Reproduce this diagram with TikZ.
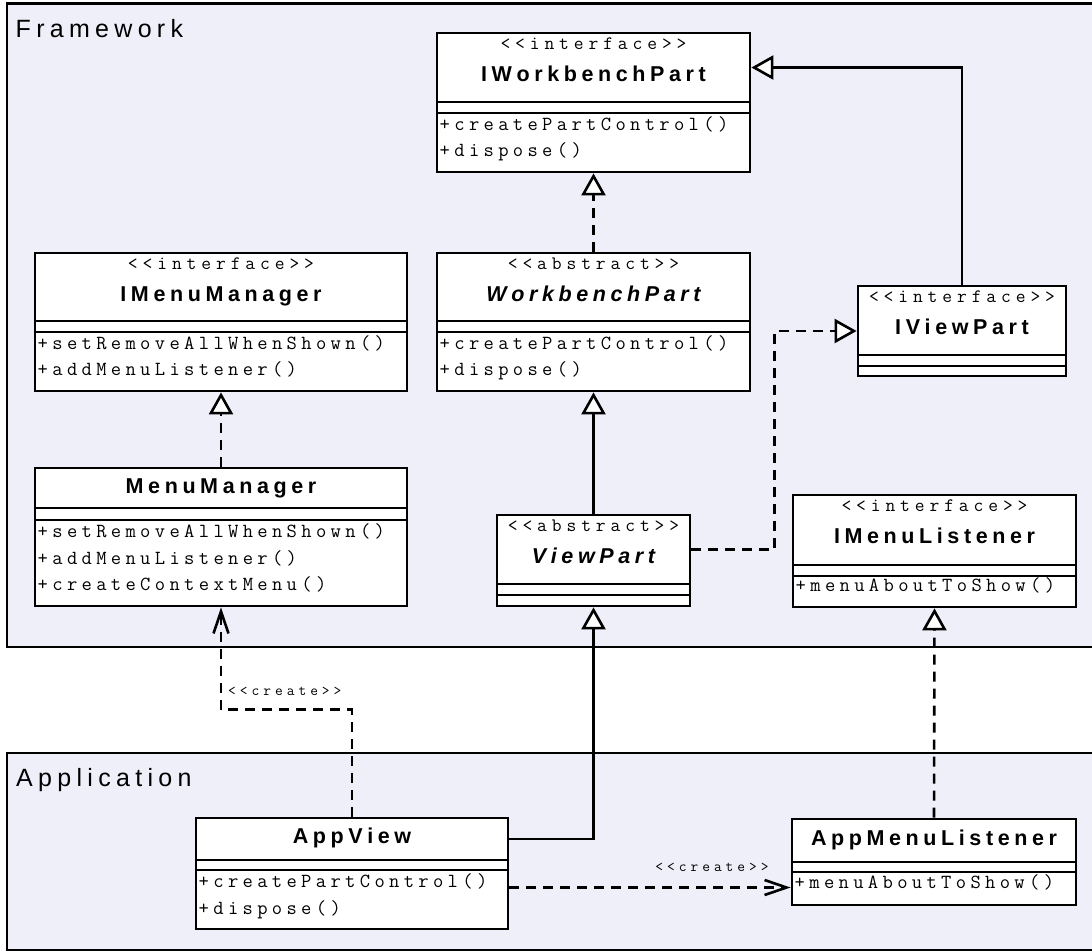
\documentclass[tikz,border=0pt]{standalone}
\usepackage{fontspec}
\setsansfont{Liberation Sans}
\usetikzlibrary{arrows.meta,fit}
\definecolor{pkgfill}{RGB}{239,239,249}

% letter-spaced text: a kern between consecutive characters
\def\spacedfirst#1{#1\spacedrest}
\def\spacedrest#1{\ifx\relax#1\else\kern\spacedamt#1\expandafter\spacedrest\fi}
\newcommand\spaced[2]{\def\spacedamt{#1}\spacedfirst#2\relax}

\newcommand\stereo[1]{{\ttfamily\fontsize{19}{19}\selectfont\spaced{4.9pt}{#1}}}
\newcommand\clsname[1]{{\sffamily\bfseries\fontsize{21.5}{22}\selectfont\spaced{4.6pt}{#1}}}
\newcommand\clsnameit[1]{{\sffamily\bfseries\itshape\fontsize{21.5}{22}\selectfont\spaced{4.6pt}{#1}}}
\newcommand\meth[1]{{\ttfamily\fontsize{20}{20}\selectfont\spaced{4.35pt}{#1}}}
\newcommand\crlbl[1]{{\ttfamily\fontsize{15}{15}\selectfont\spaced{4pt}{#1}}}
\newcommand\pkglbl[1]{{\sffamily\fontsize{25}{25}\selectfont\spaced{5.3pt}{#1}}}

% class box: name, left, right, top, end of header, end of attributes, bottom
\newcommand\umlclass[7]{%
  \node[box, fit={(#2,#4)(#3,#7)}] (#1) {};
  \node[cmp, fit={(#2,#4)(#3,#5)}] (#1-h) {};
  \node[cmp, fit={(#2,#5)(#3,#6)}] (#1-a) {};
}

\begin{document}
\begin{tikzpicture}[x=1pt,y=-1pt,
  pkg/.style={draw=black,line width=2.2pt,fill=pkgfill,inner sep=0pt},
  box/.style={draw=black,line width=2.8pt,fill=white,inner sep=0pt},
  cmp/.style={draw=black,line width=2.8pt,inner sep=0pt},
  txt/.style={inner sep=0pt},
  conn/.style={line width=2.6pt},
  dconn/.style={conn,dash pattern=on 10pt off 7pt},
  realize/.style={-{Triangle[length=22pt,width=24pt,fill=white]}},
  creates/.style={-{Straight Barb[length=22pt,width=15pt]}}]

\useasboundingbox (0,0) rectangle (1092,951);
\clip (0,0) rectangle (1092,951);
\fill[white] (0,0) rectangle (1092,951);

% packages
\node[pkg, fit={(7,3.5)(1120,647)}] (fw) {};
\node[txt, anchor=base west] (fw-l) at (15.5,37) {\pkglbl{Framework}};
\node[pkg, fit={(7,753)(1120,950)}] (app) {};
\node[txt, anchor=base west] (app-l) at (16,786) {\pkglbl{Application}};

% classes
\umlclass{iwp}{437}{750}{33}{102}{113}{172}
\umlclass{imm}{35}{407}{253}{321}{332}{391}
\umlclass{wp}{437}{750}{253}{321}{332}{391}
\umlclass{ivp}{858}{1066}{286}{355}{366}{376}
\umlclass{mm}{35}{407}{468}{508}{520}{606}
\umlclass{vp}{497}{690}{515}{584}{595}{606}
\umlclass{iml}{793}{1076}{495}{565}{576}{607}
\umlclass{av}{196}{508}{818}{860}{870}{929}
\umlclass{aml}{792}{1076}{819}{862}{872}{905}

% IWorkbenchPart
\node[txt, anchor=base] (iwp-s) at (593.5,49) {\stereo{<<interface>>}};
\node[txt, anchor=base] (iwp-n) at (593.5,81.5) {\clsname{IWorkbenchPart}};
\node[txt, anchor=base west] (iwp-m1) at (439.5,130) {\meth{+createPartControl()}};
\node[txt, anchor=base west] (iwp-m2) at (439.5,156.5) {\meth{+dispose()}};

% IMenuManager
\node[txt, anchor=base] (imm-s) at (221,269) {\stereo{<<interface>>}};
\node[txt, anchor=base] (imm-n) at (221,301.5) {\clsname{IMenuManager}};
\node[txt, anchor=base west] (imm-m1) at (37.5,349) {\meth{+setRemoveAllWhenShown()}};
\node[txt, anchor=base west] (imm-m2) at (37.5,375.5) {\meth{+addMenuListener()}};

% WorkbenchPart
\node[txt, anchor=base] (wp-s) at (593.5,269) {\stereo{<<abstract>>}};
\node[txt, anchor=base] (wp-n) at (593.5,301.5) {\clsnameit{WorkbenchPart}};
\node[txt, anchor=base west] (wp-m1) at (439.5,349) {\meth{+createPartControl()}};
\node[txt, anchor=base west] (wp-m2) at (439.5,375.5) {\meth{+dispose()}};

% IViewPart
\node[txt, anchor=base] (ivp-s) at (962,302) {\stereo{<<interface>>}};
\node[txt, anchor=base] (ivp-n) at (962,334.5) {\clsname{IViewPart}};

% MenuManager
\node[txt, anchor=base] (mm-n) at (221,493) {\clsname{MenuManager}};
\node[txt, anchor=base west] (mm-m1) at (37.5,537.5) {\meth{+setRemoveAllWhenShown()}};
\node[txt, anchor=base west] (mm-m2) at (37.5,564) {\meth{+addMenuListener()}};
\node[txt, anchor=base west] (mm-m3) at (37.5,590.5) {\meth{+createContextMenu()}};

% ViewPart
\node[txt, anchor=base] (vp-s) at (593.5,531) {\stereo{<<abstract>>}};
\node[txt, anchor=base] (vp-n) at (593.5,563.5) {\clsnameit{ViewPart}};

% IMenuListener
\node[txt, anchor=base] (iml-s) at (934.5,511) {\stereo{<<interface>>}};
\node[txt, anchor=base] (iml-n) at (934.5,543.5) {\clsname{IMenuListener}};
\node[txt, anchor=base west] (iml-m1) at (795.5,591) {\meth{+menuAboutToShow()}};

% AppView
\node[txt, anchor=base] (av-n) at (352,843) {\clsname{AppView}};
\node[txt, anchor=base west] (av-m1) at (198.5,887.5) {\meth{+createPartControl()}};
\node[txt, anchor=base west] (av-m2) at (198.5,914) {\meth{+dispose()}};

% AppMenuListener
\node[txt, anchor=base] (aml-n) at (934,845) {\clsname{AppMenuListener}};
\node[txt, anchor=base west] (aml-m1) at (794.5,888) {\meth{+menuAboutToShow()}};

% relations
\draw[conn, realize] (ivp.north) |- (iwp-h.east);
\draw[dconn, realize] (wp.north) -- (iwp.south);
\draw[dconn, realize] (mm.north) -- (imm.south);
\draw[conn, realize] (vp.north) -- (wp.south);
\draw[dconn, realize] (vp-h.east) -- ++(83,0) |- (ivp.west);
\draw[dconn, creates] (av.north) -- ++(0,-107) -| (mm.south);
\node[txt, anchor=base west] (cr1) at (228,695) {\crlbl{<<create>>}};
\draw[conn, realize] (av-h.east) -| (vp.south);
\draw[dconn, creates] (av-m1.base -| av.east) -- (av-m1.base -| aml.west);
\node[txt, anchor=base] (cr2) at (712,871) {\crlbl{<<create>>}};
\draw[dconn, realize] (aml.north) -- (iml.south);

\end{tikzpicture}
\end{document}
